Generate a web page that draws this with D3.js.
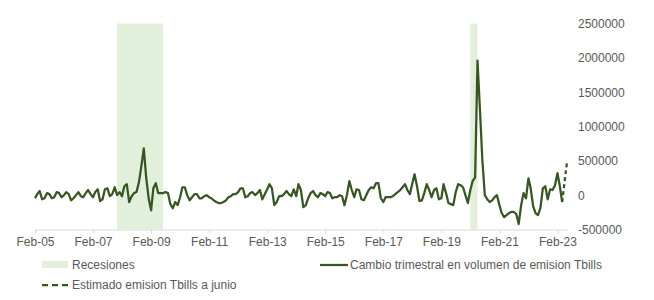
<!DOCTYPE html>
<html>
<head>
<meta charset="utf-8">
<script src="https://cdn.jsdelivr.net/npm/d3@7"></script>
<style>
  body { margin: 0; background: #fff; }
  text { font-family: "Liberation Sans", Arial, sans-serif; fill: #595959; }
</style>
</head>
<body>
<div id="chart"></div>
<script>
// serie mensual desde Feb-05, en miles
var inicio = "2005-02";
var cambioMiles = [
  -45, 15, 60, -60, -45, 30, 15, -45, -30, 45, 30, -30,
  0, 45, 15, -75, -45, 0, 45, -15, -30, 30, 75, 15,
  -30, 45, 85, -85, -60, 85, 100, -15, 15, 115, 0, 45,
  -15, 130, 160, -100, -15, 30, 45, 190, 420, 680, 260, -45,
  -220, 100, 175, 30, 30, 30, 45, 30, -130, -190, -100, -145,
  -30, 115, 115, 0, -75, -30, 15, 15, -45, -45, -15, 0,
  -30, -45, -75, -100, -115, -115, -100, -75, -30, -15, 15, 15,
  45, 100, 100, -30, -15, 30, 45, 0, 30, 75, -60, 15,
  85, 160, 100, -145, -100, -15, -15, 15, 60, 15, -15, 85,
  -15, 160, 75, -175, -145, -45, 30, 60, 0, -30, 30, 15,
  -15, 45, 30, -45, -30, -30, 0, -15, -145, 0, 205, 75,
  -30, 85, 75, -60, -75, 0, 75, 115, 100, 175, 175, -45,
  -100, -30, -30, -30, -15, 15, 45, 75, 115, 160, 75, 15,
  175, 305, 130, -85, -75, 30, 160, 75, -30, 75, 100, -60,
  -45, 160, 30, -115, -130, -145, 45, 160, 145, 115, 0, -115,
  75, 205, 260, 1960, 1235, 510, 0, -60, -100, -75, -30, 0,
  -145, -260, -320, -290, -260, -245, -245, -275, -420, -145, 30, -45,
  245, 100, -160, -260, -290, -190, 100, 130, -60, 85, 75, 145,
  320, 145, -100
];
var estimadoMeses = ["2023-04", "2023-05", "2023-06"];
var estimadoMiles = [-100, 190, 480];
var recesiones = [["2007-12", "2009-07"], ["2020-02", "2020-05"]];
var etiquetasX = ["2005-02", "2007-02", "2009-02", "2011-02", "2013-02",
                  "2015-02", "2017-02", "2019-02", "2021-02", "2023-02"];
var ticksY = [-500000, 0, 500000, 1000000, 1500000, 2000000, 2500000];
var leyenda = ["Recesiones", "Cambio trimestral en volumen de emision Tbills",
               "Estimado emision Tbills a junio"];

var verde = "#375623", verdeClaro = "#e2efda";
var parseMes = d3.timeParse("%Y-%m");

var width = 654, height = 300;
var svg = d3.select("#chart").append("svg")
    .attr("width", width)
    .attr("height", height);

var x = d3.scaleTime()
    .domain([parseMes("2005-02"), parseMes("2023-06")])
    .range([35, 567]);
var y = d3.scaleLinear()
    .domain([-500000, 2500000])
    .range([229.5, 23.5]);

// recesiones
svg.append("g").selectAll("rect")
    .data(recesiones)
    .enter().append("rect")
    .attr("x", function (d) { return x(parseMes(d[0])); })
    .attr("width", function (d) { return x(parseMes(d[1])) - x(parseMes(d[0])); })
    .attr("y", y(2500000))
    .attr("height", y(-500000) - y(2500000))
    .style("fill", verdeClaro);

// eje X
var xAxis = svg.append("g")
    .attr("transform", "translate(0," + y(-500000) + ")")
    .call(d3.axisBottom(x)
        .tickValues(etiquetasX.map(parseMes))
        .tickFormat(d3.timeFormat("%b-%y"))
        .tickSize(4)
        .tickSizeOuter(0)
        .tickPadding(4));
xAxis.selectAll("path, line").attr("stroke", "#d9d9d9");
xAxis.selectAll("text").style("font-size", "12px").style("fill", "#595959")
    .style("font-family", "'Liberation Sans', Arial, sans-serif");

// eje Y
var yAxis = svg.append("g")
    .attr("transform", "translate(575,0)")
    .call(d3.axisRight(y)
        .tickValues(ticksY)
        .tickFormat(function (d) { return String(d); })
        .tickSize(0)
        .tickPadding(3));
yAxis.select(".domain").remove();
yAxis.selectAll("text").style("font-size", "12px").style("fill", "#595959")
    .style("font-family", "'Liberation Sans', Arial, sans-serif");

// serie
var serie = cambioMiles.map(function (v, i) {
    return { fecha: d3.timeMonth.offset(parseMes(inicio), i), valor: v * 1000 };
});
var estimado = estimadoMeses.map(function (m, i) {
    return { fecha: parseMes(m), valor: estimadoMiles[i] * 1000 };
});

var line = d3.line()
    .x(function (d) { return x(d.fecha); })
    .y(function (d) { return y(d.valor); });

svg.append("path")
    .datum(estimado)
    .attr("d", line)
    .style("fill", "none")
    .style("stroke", verde)
    .style("stroke-width", 2.25)
    .style("stroke-dasharray", "4,3");

svg.append("path")
    .datum(serie)
    .attr("d", line)
    .style("fill", "none")
    .style("stroke", verde)
    .style("stroke-width", 2.25)
    .style("stroke-linejoin", "round");

// leyenda
var leg = svg.append("g").style("font-size", "12px");
leg.append("rect").attr("x", 42).attr("y", 261).attr("width", 26).attr("height", 7)
    .style("fill", verdeClaro);
leg.append("text").attr("x", 72).attr("y", 269).text(leyenda[0]);

leg.append("line").attr("x1", 320).attr("x2", 348).attr("y1", 265).attr("y2", 265)
    .style("stroke", verde).style("stroke-width", 2.25);
leg.append("text").attr("x", 350).attr("y", 269).text(leyenda[1]);

leg.append("line").attr("x1", 42).attr("x2", 68).attr("y1", 285).attr("y2", 285)
    .style("stroke", verde).style("stroke-width", 2.25).style("stroke-dasharray", "6,4");
leg.append("text").attr("x", 72).attr("y", 289).text(leyenda[2]);
</script>
</body>
</html>
